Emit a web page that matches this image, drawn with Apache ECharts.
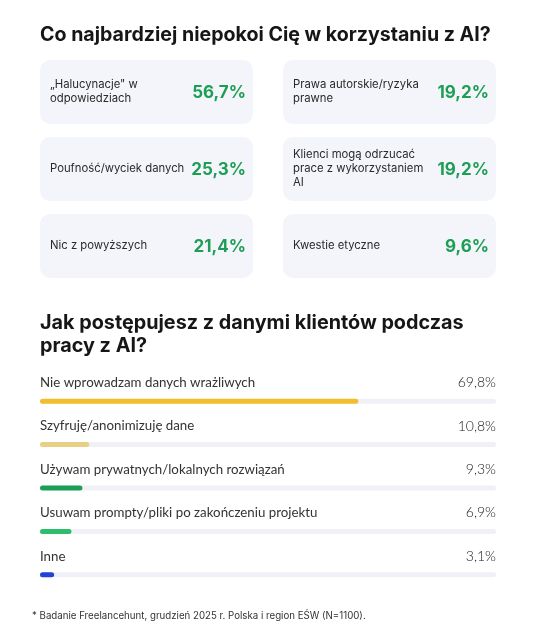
<!DOCTYPE html>
<html><head><meta charset="utf-8">
<script src="https://cdn.jsdelivr.net/npm/echarts@6/dist/echarts.min.js"></script>
<style>html,body{margin:0;padding:0;background:#fff}#c{width:543px;height:640px}</style>
</head><body><div id="c"></div>
<script>
const title1 = 'Co najbardziej niepokoi Cię w korzystaniu z AI?';
const title2 = 'Jak postępujesz z danymi klientów podczas\npracy z AI?';
const footnote = '* Badanie Freelancehunt, grudzień 2025 r. Polska i region EŚW (N=1100).';

const concernLabels = [
  '\u201EHalucynacje" w\nodpowiedziach',
  'Prawa autorskie/ryzyka\nprawne',
  'Poufność/wyciek danych',
  'Klienci mogą odrzucać\nprace z wykorzystaniem\nAI',
  'Nic z powyższych',
  'Kwestie etyczne'
];
const concernValues = [56.7, 19.2, 25.3, 19.2, 21.4, 9.6];

const handlingLabels = [
  'Nie wprowadzam danych wrażliwych',
  'Szyfruję/anonimizuję dane',
  'Używam prywatnych/lokalnych rozwiązań',
  'Usuwam prompty/pliki po zakończeniu projektu',
  'Inne'
];
const handlingValues = [69.8, 10.8, 9.3, 6.9, 3.1];
const handlingColors = ['#F3BD2E', '#E8CF86', '#1B9F56', '#2CBE6C', '#2242D8'];

const fmt = v => v.toFixed(1).replace('.', ',') + '%';
const FONT = 'Inter';
const FONT2 = 'Lato';
const GRID_W = 456;

const chart = echarts.init(document.getElementById('c'), null, {renderer: 'canvas'});
chart.setOption({
  backgroundColor: '#ffffff',
  animation: false,
  title: [
    {text: title1, left: 40, top: 23, padding: 0,
     textStyle: {fontFamily: FONT, fontSize: 19.6, fontWeight: 700, color: '#161616', lineHeight: 24}},
    {text: title2, left: 40, top: 312, padding: 0,
     textStyle: {fontFamily: FONT, fontSize: 19.8, fontWeight: 700, color: '#161616', lineHeight: 23}},
    {text: footnote, left: 32, top: 609, padding: 0,
     textStyle: {fontFamily: FONT, fontSize: 9.7, fontWeight: 400, color: '#333', lineHeight: 14}}
  ],
  grid: [
    {left: 40, width: GRID_W, top: 60, height: 218},
    {left: 40, width: GRID_W, top: 379.5, height: 217}
  ],
  xAxis: [
    {gridIndex: 0, type: 'category', data: ['0', '1'], show: false},
    {gridIndex: 1, type: 'value', min: 0, max: 100, show: false}
  ],
  yAxis: [
    {gridIndex: 0, type: 'category', data: ['0', '1', '2'], inverse: true, show: false},
    {gridIndex: 1, type: 'category', data: handlingLabels, inverse: true, show: false}
  ],
  series: [
    {
      type: 'custom', xAxisIndex: 0, yAxisIndex: 0,
      data: concernValues.map((v, i) => [i % 2, Math.floor(i / 2), v]),
      encode: {x: 0, y: 1},
      renderItem: function (params, api) {
        const col = api.value(0), row = api.value(1), val = api.value(2);
        const c = api.coord([col, row]);
        const s = api.size([1, 1]);
        const gap = 30, vgap = 13;
        const w = s[0] - gap / 2, h = s[1] - vgap * 2 / 3;
        const x0 = c[0] - s[0] / 2 + col * gap / 2;
        const y0 = c[1] - s[1] / 2 + row * vgap / 3;
        return {
          type: 'group',
          children: [
            {type: 'rect', shape: {x: x0, y: y0, width: w, height: h, r: 10},
             style: {fill: '#F4F5FA'}},
            {type: 'text', style: {x: x0 + 10, y: y0 + h / 2, text: concernLabels[params.dataIndex],
              align: 'left', verticalAlign: 'middle', fontFamily: FONT, fontSize: 11.3, lineHeight: 14,
              fill: '#2a2a2a'}},
            {type: 'text', style: {x: x0 + w - 7, y: y0 + h / 2 + 1, text: fmt(val),
              align: 'right', verticalAlign: 'middle', fontFamily: FONT, fontSize: 17, fontWeight: 700,
              fill: '#1E9E55'}}
          ]
        };
      }
    },
    {
      type: 'bar', xAxisIndex: 1, yAxisIndex: 1,
      barWidth: 5,
      data: handlingValues.map((v, i) => ({value: v, itemStyle: {color: handlingColors[i]}})),
      itemStyle: {borderRadius: 2.5},
      showBackground: true,
      backgroundStyle: {color: '#F0F1F7', borderRadius: 2.5},
      label: {show: true, position: [0, -16], align: 'left', verticalAlign: 'middle',
        width: GRID_W, overflow: 'none',
        formatter: p => '{n|' + handlingLabels[p.dataIndex] + '}{v|' + fmt(handlingValues[p.dataIndex]) + '}',
        rich: {
          n: {fontFamily: FONT2, fontSize: 13.3, color: '#333', fontWeight: 400, align: 'left'},
          v: {fontFamily: FONT2, fontSize: 14, color: '#222', fontWeight: 300, align: 'right'}
        }}
    }
  ]
});
</script></body></html>
